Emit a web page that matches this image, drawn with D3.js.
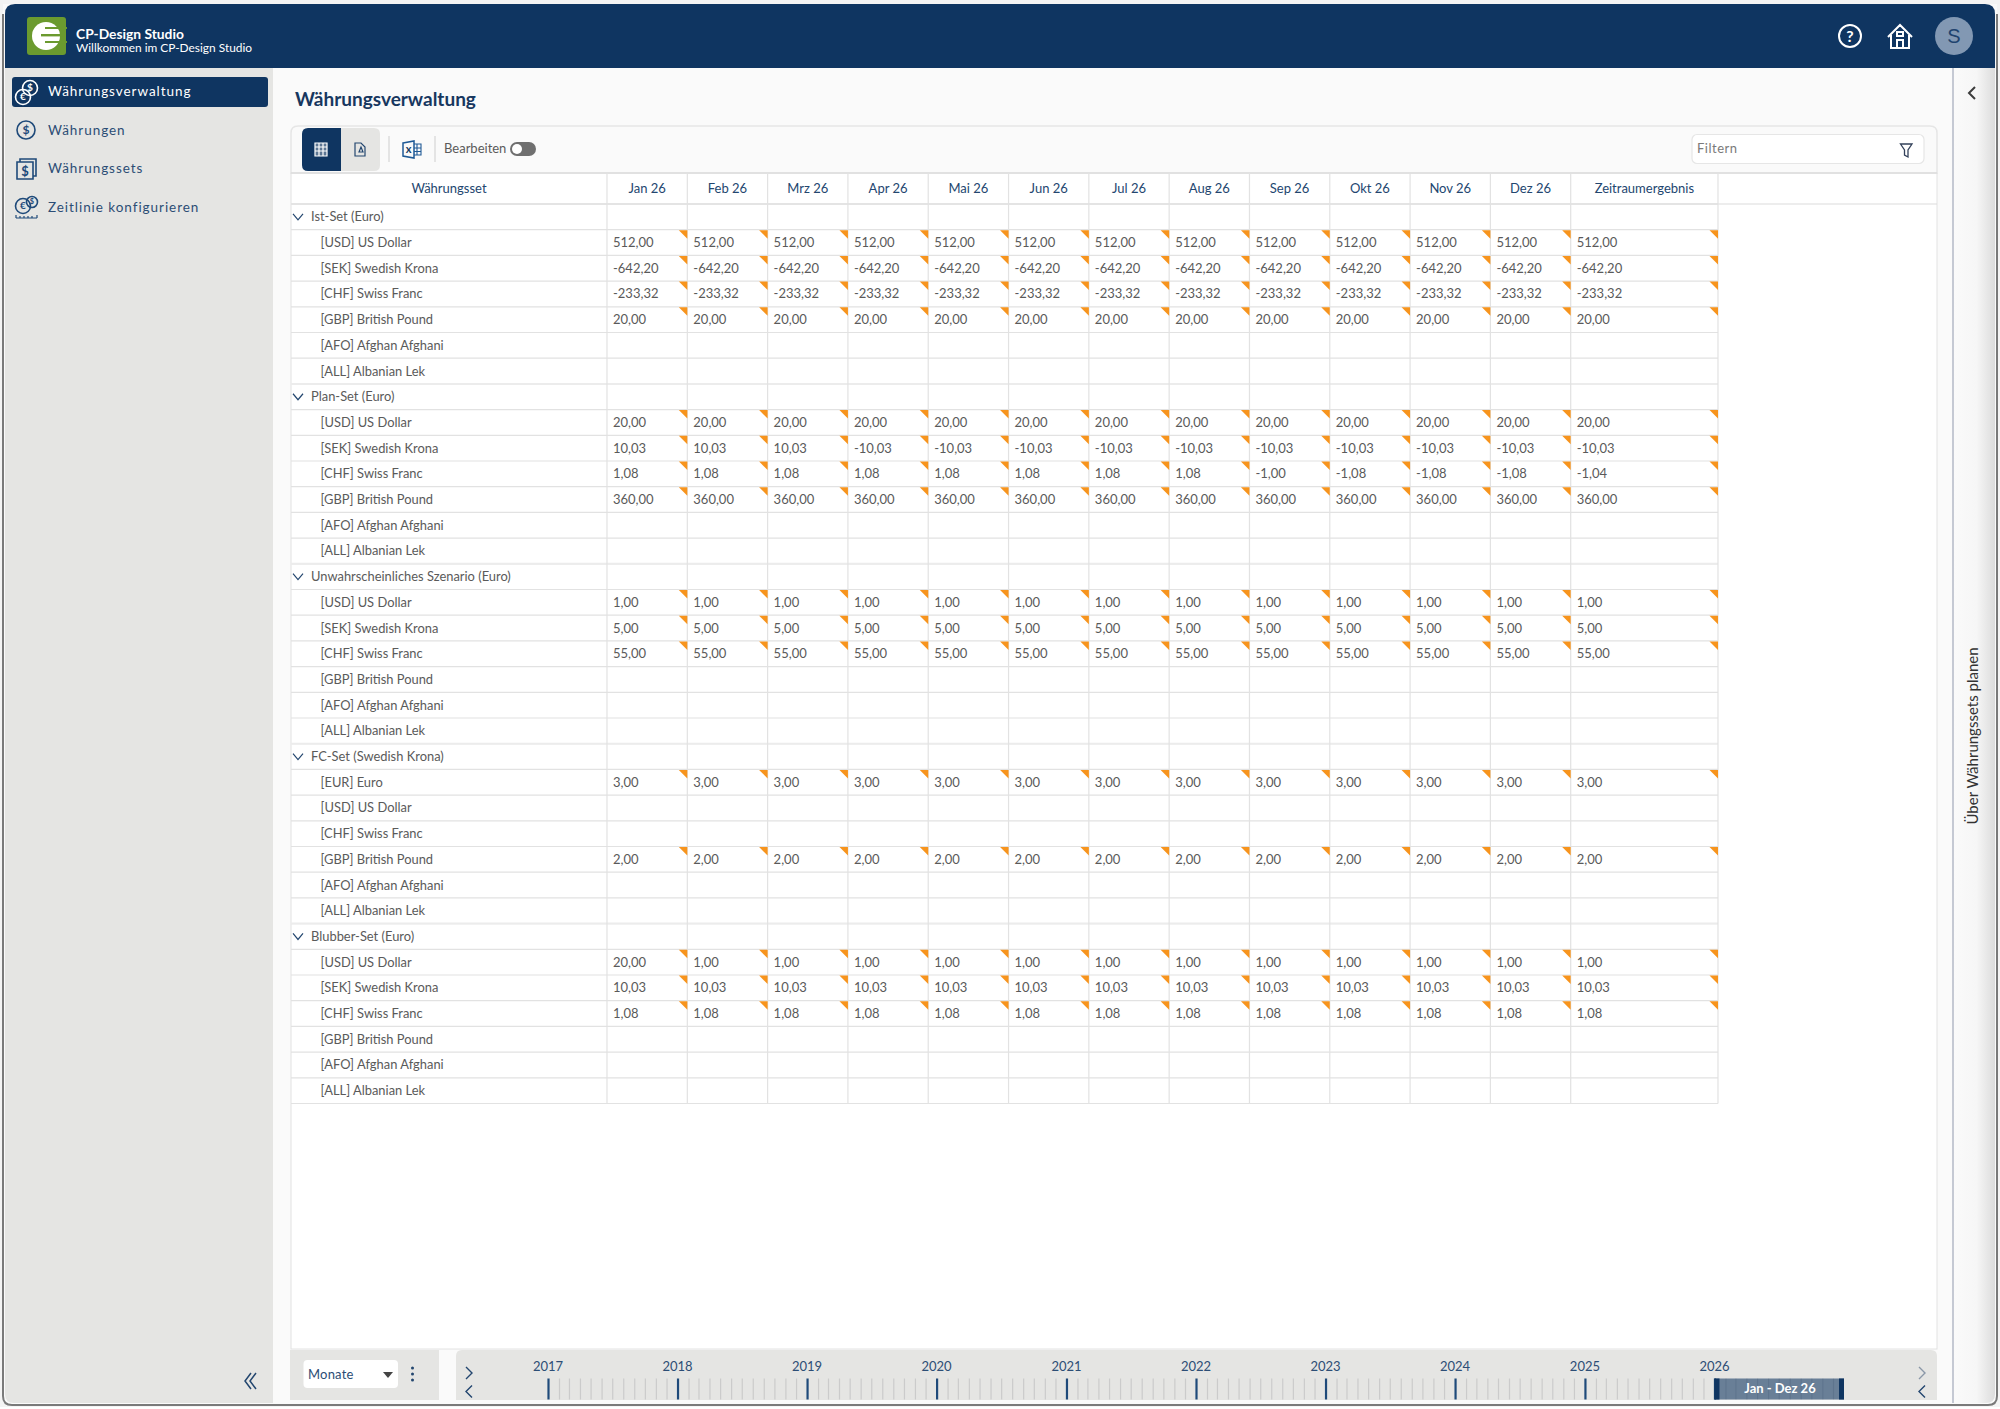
<!DOCTYPE html>
<html>
<head>
<meta charset="utf-8">
<script src="https://cdn.jsdelivr.net/npm/d3@7"></script>
<style>
  html, body { margin: 0; padding: 0; background: #fff; }
  svg { display: block; font-family: Lato, "Open Sans", sans-serif; }
</style>
</head>
<body>
<svg id="app" width="2000" height="1409"></svg>
<script>
// table content
const monthLabels = ['Jan 26','Feb 26','Mrz 26','Apr 26','Mai 26','Jun 26','Jul 26','Aug 26','Sep 26','Okt 26','Nov 26','Dez 26'];
const resultLabel = 'Zeitraumergebnis';
const setNames = ['Ist-Set (Euro)','Plan-Set (Euro)','Unwahrscheinliches Szenario (Euro)','FC-Set (Swedish Krona)','Blubber-Set (Euro)'];
const euroCurrencies = ['[USD] US Dollar','[SEK] Swedish Krona','[CHF] Swiss Franc','[GBP] British Pound','[AFO] Afghan Afghani','[ALL] Albanian Lek'];
const kronaCurrencies = ['[EUR] Euro','[USD] US Dollar','[CHF] Swiss Franc','[GBP] British Pound','[AFO] Afghan Afghani','[ALL] Albanian Lek'];
const setCurrencies = [euroCurrencies, euroCurrencies, euroCurrencies, kronaCurrencies, euroCurrencies];

const blank = [null,null,null,null,null,null,null,null,null,null,null,null,null];

const istValues = [
  [512,512,512,512,512,512,512,512,512,512,512,512,512],
  [-642.2,-642.2,-642.2,-642.2,-642.2,-642.2,-642.2,-642.2,-642.2,-642.2,-642.2,-642.2,-642.2],
  [-233.32,-233.32,-233.32,-233.32,-233.32,-233.32,-233.32,-233.32,-233.32,-233.32,-233.32,-233.32,-233.32],
  [20,20,20,20,20,20,20,20,20,20,20,20,20],
  blank, blank
];
const planValues = [
  [20,20,20,20,20,20,20,20,20,20,20,20,20],
  [10.03,10.03,10.03,-10.03,-10.03,-10.03,-10.03,-10.03,-10.03,-10.03,-10.03,-10.03,-10.03],
  [1.08,1.08,1.08,1.08,1.08,1.08,1.08,1.08,-1,-1.08,-1.08,-1.08,-1.04],
  [360,360,360,360,360,360,360,360,360,360,360,360,360],
  blank, blank
];
const szenarioValues = [
  [1,1,1,1,1,1,1,1,1,1,1,1,1],
  [5,5,5,5,5,5,5,5,5,5,5,5,5],
  [55,55,55,55,55,55,55,55,55,55,55,55,55],
  blank, blank, blank
];
const fcValues = [
  [3,3,3,3,3,3,3,3,3,3,3,3,3],
  blank, blank,
  [2,2,2,2,2,2,2,2,2,2,2,2,2],
  blank, blank
];
const blubberValues = [
  [20,1,1,1,1,1,1,1,1,1,1,1,1],
  [10.03,10.03,10.03,10.03,10.03,10.03,10.03,10.03,10.03,10.03,10.03,10.03,10.03],
  [1.08,1.08,1.08,1.08,1.08,1.08,1.08,1.08,1.08,1.08,1.08,1.08,1.08],
  blank, blank, blank
];
const setValues = [istValues, planValues, szenarioValues, fcValues, blubberValues];

const navLabels = ['Währungsverwaltung','Währungen','Währungssets','Zeitlinie konfigurieren'];
const timelineYears = [2017,2018,2019,2020,2021,2022,2023,2024,2025,2026];

const navy = '#0f3561', gridColor = '#e2e2e2', textColor = '#5a5a5a', headColor = '#23466f', orange = '#f7941d';

const svg = d3.select('#app');
const de = d3.formatLocale({ decimal: ',', thousands: '.', grouping: [3], currency: ['', ' €'], minus: '-' });
const fmt = de.format('.2f');

// flatten the sets into rows
const rows = [];
setNames.forEach((name, s) => {
  rows.push({ type: 'group', label: name });
  setCurrencies[s].forEach((c, i) => rows.push({ type: 'item', label: c, values: setValues[s][i] }));
});

// window frame and page (no dark line along the top)
svg.append('rect').attr('width', 2000).attr('height', 1409).attr('fill', '#f4f4f4');
svg.append('rect').attr('x', 0).attr('y', 1407).attr('width', 2000).attr('height', 2).attr('fill', '#fff');
svg.append('path').attr('d', 'M3,4 V1396 Q3,1405 12,1405 H1988 Q1997,1405 1997,1396 V4 Z')
  .attr('fill', '#fafafa');
svg.append('path').attr('d', 'M3,14 V1396 Q3,1405 12,1405 H1988 Q1997,1405 1997,1396 V14')
  .attr('fill', 'none').attr('stroke', '#7a7a7a').attr('stroke-width', 2);
svg.append('path').attr('d', 'M5,68 H273 V1403 H14 Q5,1403 5,1394 Z').attr('fill', '#e5e5e3');

// right panel
const defs = svg.append('defs');
const grad = defs.append('linearGradient').attr('id', 'panelGrad');
grad.append('stop').attr('offset', 0).attr('stop-color', '#fafafa');
grad.append('stop').attr('offset', 0.55).attr('stop-color', '#f6f6f6');
grad.append('stop').attr('offset', 1).attr('stop-color', '#dcdcdc');
svg.append('path').attr('d', 'M1954,68 H1995 V1394 Q1995,1403 1986,1403 H1954 Z').attr('fill', 'url(#panelGrad)');
svg.append('line').attr('x1', 1953).attr('x2', 1953).attr('y1', 68).attr('y2', 1403).attr('stroke', '#c5c9d3').attr('stroke-width', 2);
svg.append('path').attr('d', 'M1975,87 L1969,93 L1975,99').attr('fill', 'none').attr('stroke', '#3c3c3c').attr('stroke-width', 2);
svg.append('text').attr('transform', 'translate(1978,736) rotate(-90)').attr('text-anchor', 'middle')
  .attr('font-size', 15).attr('fill', '#333').text('Über Währungssets planen');

// header
svg.append('path').attr('d', 'M5,68 V14 Q5,4 15,4 H1985 Q1995,4 1995,14 V68 Z').attr('fill', navy);
const logo = svg.append('g').attr('transform', 'translate(27,17)');
logo.append('rect').attr('width', 39).attr('height', 38).attr('rx', 3).attr('fill', '#6b9a2f');
logo.append('circle').attr('cx', 19).attr('cy', 19).attr('r', 14).attr('fill', '#fff');
[[11, 30, 2], [18, 34, 2.4], [25, 30, 2]].forEach(d => {
  logo.append('rect').attr('x', d[0] === 18 ? 14 : 18).attr('y', d[0] - 1).attr('width', 22).attr('height', d[2]).attr('fill', '#6b9a2f');
});
svg.append('text').attr('x', 76).attr('y', 39).attr('fill', '#fff').attr('font-size', 13.8).attr('font-weight', 700).text('CP-Design Studio');
svg.append('text').attr('x', 76).attr('y', 52).attr('fill', '#fff').attr('font-size', 11.9).text('Willkommen im CP-Design Studio');

const help = svg.append('g').attr('transform', 'translate(1850,36)');
help.append('circle').attr('r', 11).attr('fill', 'none').attr('stroke', '#fff').attr('stroke-width', 2);
help.append('text').attr('text-anchor', 'middle').attr('y', 6).attr('font-size', 16).attr('font-weight', 700).attr('fill', '#fff').text('?');
svg.append('path').attr('d', 'M1888,37 L1900,25 L1912,37 M1891,35 V48 H1909 V35 M1897,48 V40 H1903 V48 M1897,32 H1903 V36 H1897 Z')
  .attr('fill', 'none').attr('stroke', '#fff').attr('stroke-width', 2);
svg.append('circle').attr('cx', 1954).attr('cy', 36).attr('r', 19).attr('fill', '#8298b3');
svg.append('text').attr('x', 1954).attr('y', 43).attr('text-anchor', 'middle').attr('font-size', 20)
  .attr('font-family', 'Liberation Sans').attr('fill', '#20436e').text('S');

// sidebar
const navY = d3.scalePoint().domain(navLabels).range([91, 207]);
svg.append('rect').attr('x', 12).attr('y', 77).attr('width', 256).attr('height', 30).attr('rx', 3).attr('fill', navy);
svg.selectAll('.nav').data(navLabels).enter().append('text').attr('class', 'nav')
  .attr('x', 48).attr('y', d => navY(d) + 5)
  .attr('font-size', 13.5).attr('letter-spacing', 0.95)
  .attr('fill', (d, i) => i === 0 ? '#fff' : '#2c4d75').text(d => d);

function coinIcon(g, x, y, r, color, sign) {
  g.append('circle').attr('cx', x).attr('cy', y).attr('r', r).attr('fill', 'none').attr('stroke', color).attr('stroke-width', 1.6);
  g.append('text').attr('x', x).attr('y', y + r * 0.45).attr('text-anchor', 'middle').attr('font-size', r * 1.35)
    .attr('font-weight', 700).attr('fill', color).text(sign);
}
const icons = svg.append('g');
coinIcon(icons, 23, 97, 7.5, '#fff', '€');
coinIcon(icons, 30, 88, 7.5, '#fff', '$');
coinIcon(icons, 26, 130, 9, '#1f4a7a', '$');
icons.append('path').attr('d', 'M17,162 H33 V179 H17 Z M20,162 V159 H36 V176 H33').attr('fill', 'none').attr('stroke', '#1f4a7a').attr('stroke-width', 1.6);
icons.append('text').attr('x', 25).attr('y', 176).attr('text-anchor', 'middle').attr('font-size', 13).attr('font-weight', 700).attr('fill', '#1f4a7a').text('$');
coinIcon(icons, 23, 206, 7.5, '#1f4a7a', '€');
coinIcon(icons, 32, 202, 5.5, '#1f4a7a', '$');
icons.append('path').attr('d', 'M16,218 H37 M16,218 V215 M20,218 V216 M24,218 V216 M28,218 V216 M32,218 V216 M37,218 V215').attr('fill', 'none').attr('stroke', '#1f4a7a').attr('stroke-width', 1.2);
svg.append('path').attr('d', 'M251,1373 L245,1381 L251,1389 M256,1373 L250,1381 L256,1389').attr('fill', 'none').attr('stroke', '#23466f').attr('stroke-width', 1.5);

// title and toolbar
svg.append('text').attr('x', 295).attr('y', 105.5).attr('font-size', 19).attr('font-weight', 700).attr('fill', '#17375f').text('Währungsverwaltung');
svg.append('path').attr('d', 'M291,174 V133 Q291,126 298,126 H1930 Q1937,126 1937,133 V174').attr('fill', '#fafafa').attr('stroke', '#e6e6e6').attr('stroke-width', 1.5);
svg.append('path').attr('d', 'M341,128 H374 Q380,128 380,134 V165 Q380,171 374,171 H341 Z').attr('fill', '#e5e5e3');
svg.append('path').attr('d', 'M341,128 H308 Q302,128 302,134 V165 Q302,171 308,171 H341 Z').attr('fill', navy);
// table / pdf / excel icons
svg.append('path').attr('d', 'M315,143 H327 V156 H315 Z M315,147 H327 M315,151 H327 M319,143 V156 M323,143 V156').attr('fill', '#5d7693').attr('stroke', '#fff').attr('stroke-width', 1.2);
svg.append('path').attr('d', 'M355,143 H361 L365,147 V156 H355 Z M359,152 L361,147 L363,152 Z').attr('fill', 'none').attr('stroke', '#23466f').attr('stroke-width', 1.2);
svg.append('path').attr('d', 'M403,143 L414,141 V158 L403,156 Z').attr('fill', 'none').attr('stroke', '#1f5a96').attr('stroke-width', 1.5);
svg.append('path').attr('d', 'M414,144 H421 V155 H414 M417,144 V155 M414,148 H421 M414,151.5 H421').attr('fill', 'none').attr('stroke', '#1f5a96').attr('stroke-width', 1.1);
svg.append('text').attr('x', 408.5).attr('y', 153).attr('text-anchor', 'middle').attr('font-size', 11).attr('font-weight', 700).attr('fill', '#173a64').text('x');
[389, 435].forEach(x => svg.append('line').attr('x1', x).attr('x2', x).attr('y1', 136).attr('y2', 162).attr('stroke', '#d5d5d5').attr('stroke-width', 1.2));
svg.append('text').attr('x', 444).attr('y', 153).attr('font-size', 13).attr('fill', '#5a5a5a').text('Bearbeiten');
svg.append('rect').attr('x', 510).attr('y', 142).attr('width', 26).attr('height', 14).attr('rx', 7).attr('fill', '#6f6f6f');
svg.append('circle').attr('cx', 517).attr('cy', 149).attr('r', 5).attr('fill', '#fff');
svg.append('rect').attr('x', 1692).attr('y', 134.5).attr('width', 232).attr('height', 29).attr('rx', 5).attr('fill', '#fff').attr('stroke', '#e6e6e6').attr('stroke-width', 1.2);
svg.append('text').attr('x', 1697).attr('y', 153).attr('font-size', 13).attr('letter-spacing', 0.5).attr('fill', '#7a7a7a').text('Filtern');
svg.append('path').attr('d', 'M1900.5,144 H1912 L1908,150 V157 L1904.5,155 V150 Z').attr('fill', 'none').attr('stroke', '#33415a').attr('stroke-width', 1.3);

// table
const tableLeft = 291, tableRight = 1937, tableTop = 173, headBottom = 204, tableBottom = 1349, rowsBottom = 1103.5;
const firstColRight = 607, monthsRight = 1570.7, resultRight = 1718;
svg.append('rect').attr('x', tableLeft).attr('y', tableTop).attr('width', tableRight - tableLeft).attr('height', tableBottom - tableTop)
  .attr('fill', '#fff').attr('stroke', '#e2e2e2').attr('stroke-width', 1);

const x = d3.scaleBand().domain(monthLabels).range([firstColRight, monthsRight]);
const colX = i => i < 12 ? x(monthLabels[i]) : monthsRight;
const colW = i => i < 12 ? x.bandwidth() : resultRight - monthsRight;
const y = d3.scaleBand().domain(d3.range(rows.length)).range([headBottom, rowsBottom]);

// horizontal grid
svg.append('g').selectAll('line').data(rows).enter().append('line')
  .attr('x1', tableLeft).attr('x2', resultRight)
  .attr('y1', (d, i) => y(i) + y.bandwidth()).attr('y2', (d, i) => y(i) + y.bandwidth())
  .attr('stroke', gridColor).attr('stroke-width', 1.2);
svg.append('g').selectAll('line').data(rows.filter(d => d.type === 'group')).enter().append('line')
  .attr('x1', tableLeft).attr('x2', resultRight)
  .attr('y1', d => y(rows.indexOf(d))).attr('y2', d => y(rows.indexOf(d)))
  .attr('stroke', '#ececec').attr('stroke-width', 2);
svg.append('line').attr('x1', tableLeft).attr('x2', tableRight).attr('y1', tableTop).attr('y2', tableTop).attr('stroke', '#dcdcdc').attr('stroke-width', 1.5);
svg.append('line').attr('x1', tableLeft).attr('x2', tableRight).attr('y1', headBottom).attr('y2', headBottom).attr('stroke', '#dcdcdc').attr('stroke-width', 1.2);

// vertical grid
const vLines = d3.range(14).map(i => i < 13 ? colX(i) : resultRight);
svg.append('g').selectAll('line').data(vLines).enter().append('line')
  .attr('x1', d => d).attr('x2', d => d).attr('y1', tableTop).attr('y2', rowsBottom)
  .attr('stroke', gridColor).attr('stroke-width', 1.2);

// header labels
const headY = tableTop + 20;
svg.append('text').attr('x', (tableLeft + firstColRight) / 2 + 0).attr('y', headY).attr('text-anchor', 'middle')
  .attr('font-size', 13).attr('fill', headColor).text('Währungsset');
svg.append('g').selectAll('text').data(monthLabels.concat(resultLabel)).enter().append('text')
  .attr('x', (d, i) => colX(i) + colW(i) / 2).attr('y', headY).attr('text-anchor', 'middle')
  .attr('font-size', 13).attr('fill', headColor).text(d => d);

// rows
const rowG = svg.append('g').selectAll('g').data(rows).enter().append('g')
  .attr('transform', (d, i) => `translate(0,${y(i)})`);
rowG.append('text')
  .attr('x', d => d.type === 'group' ? 311 : 320.5)
  .attr('y', y.bandwidth() / 2 + 4.5)
  .attr('font-size', 12.9).attr('fill', textColor).text(d => d.label);
rowG.filter(d => d.type === 'group').append('path')
  .attr('d', `M293,${y.bandwidth() / 2 - 3} L298,${y.bandwidth() / 2 + 3} L303,${y.bandwidth() / 2 - 3}`)
  .attr('fill', 'none').attr('stroke', '#23466f').attr('stroke-width', 1.2);

const cells = rowG.filter(d => d.type === 'item').selectAll('g.cell')
  .data(d => d.values.map((v, i) => ({ v, i })).filter(c => c.v !== null))
  .enter().append('g').attr('class', 'cell');
cells.append('text')
  .attr('x', d => colX(d.i) + 6).attr('y', y.bandwidth() / 2 + 4.5)
  .attr('font-size', 13).attr('fill', textColor).text(d => fmt(d.v));
cells.append('path')
  .attr('d', d => {
    const r = colX(d.i) + colW(d.i);
    return `M${r - 8.5},0.5 H${r} V9 Z`;
  })
  .attr('fill', orange);

// bottom bar
svg.append('rect').attr('x', 290).attr('y', 1350).attr('width', 149).attr('height', 50).attr('fill', '#e5e5e3');
svg.append('path').attr('d', 'M456,1400 V1356 Q456,1350 462,1350 H1931 Q1937,1350 1937,1356 V1400 Z').attr('fill', '#e5e5e3');
svg.append('rect').attr('x', 303.5).attr('y', 1360).attr('width', 94.5).attr('height', 28).attr('rx', 4).attr('fill', '#fff');
svg.append('text').attr('x', 308).attr('y', 1379).attr('font-size', 13).attr('letter-spacing', 0.2).attr('fill', '#2c4d75').text('Monate');
svg.append('path').attr('d', 'M383,1372 H393 L388,1378 Z').attr('fill', '#444');
[1368, 1374, 1380].forEach(cy => svg.append('circle').attr('cx', 412.5).attr('cy', cy).attr('r', 1.5).attr('fill', '#23466f'));
svg.append('path').attr('d', 'M466,1367 L472,1373 L466,1379 M472,1385.5 L466,1391.5 L472,1397.5').attr('fill', 'none').attr('stroke', '#23466f').attr('stroke-width', 1.4);
svg.append('path').attr('d', 'M1919,1367 L1925,1373 L1919,1379').attr('fill', 'none').attr('stroke', '#8a97a8').attr('stroke-width', 1.4);
svg.append('path').attr('d', 'M1925,1385.5 L1919,1391.5 L1925,1397.5').attr('fill', 'none').attr('stroke', '#23466f').attr('stroke-width', 1.4);

const t = d3.scaleTime().domain([new Date(2017, 0, 1), new Date(2027, 0, 1)]).range([548, 1844]);
const monthTicks = d3.timeMonth.range(new Date(2017, 0, 1), new Date(2027, 0, 1));
const monthAxis = d3.axisBottom(t).tickValues(monthTicks).tickSize(21).tickFormat('');
const monthG = svg.append('g').attr('transform', 'translate(0,1378.5)').call(monthAxis);
monthG.select('.domain').remove();
monthG.selectAll('.tick line').attr('stroke', '#cbcbcb').attr('stroke-width', 1.2);
monthG.selectAll('.tick').filter(d => d.getMonth() === 0).select('line').attr('stroke', '#1f4a7a').attr('stroke-width', 2.2);

svg.append('g').selectAll('text').data(timelineYears).enter().append('text')
  .attr('x', d => t(new Date(d, 0, 1))).attr('y', 1371).attr('text-anchor', 'middle')
  .attr('font-size', 13).attr('fill', '#2c4d75').text(d => d);

// selected range on the timeline
const selStart = new Date(2026, 0, 1), selEnd = new Date(2027, 0, 1);
svg.append('rect').attr('x', t(selStart)).attr('y', 1378.5).attr('width', t(selEnd) - t(selStart)).attr('height', 21).attr('fill', '#0f3561').attr('opacity', 0.58);
svg.append('rect').attr('x', t(selStart)).attr('y', 1378.5).attr('width', 5).attr('height', 21).attr('fill', navy);
svg.append('rect').attr('x', t(selEnd) - 5).attr('y', 1378.5).attr('width', 5).attr('height', 21).attr('fill', navy);
svg.append('text').attr('x', 1780).attr('y', 1393).attr('text-anchor', 'middle').attr('font-size', 13).attr('font-weight', 700).attr('fill', '#fff').text('Jan - Dez 26');
</script>
</body>
</html>
